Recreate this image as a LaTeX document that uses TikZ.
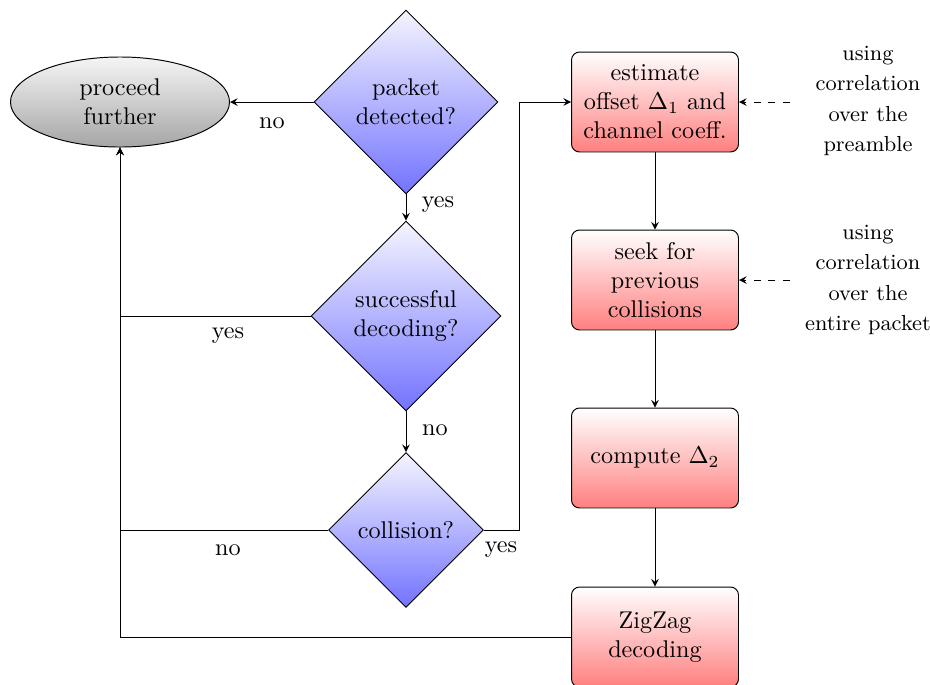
\documentclass[tikz,border=0pt]{standalone}
\usetikzlibrary{shapes.geometric,arrows}
\begin{document}
\begin{tikzpicture}[x=0.4132pt,y=-0.4132pt,
  arr/.style={-stealth},
  dec/.style={diamond,draw,aspect=1,inner sep=0pt,align=center,top color=blue!4,bottom color=blue!55},
  procbox/.style={rectangle,rounded corners=3.3pt,draw,align=center,minimum width=69pt,minimum height=41.3pt,inner sep=2pt,top color=white,bottom color=red!50},
  endnode/.style={ellipse,draw,align=center,minimum width=90.5pt,minimum height=37.2pt,inner sep=0pt,top color=black!4,bottom color=black!35},
  note/.style={align=center,font=\small},
  lbl/.style={inner sep=0pt}]
\useasboundingbox (0,0) rectangle (930,684);
\node[endnode] (proc) at (120,102) {proceed\\further};
\node[dec,minimum width=76pt,minimum height=76pt] (pkt) at (406,102) {packet\\detected?};
\node[dec,minimum width=78.5pt,minimum height=78.5pt] (succ) at (406,316) {successful\\decoding?};
\node[dec,minimum width=64pt,minimum height=64pt] (coll) at (406,530) {collision?};
\node[procbox] (est) at (655,102) {estimate\\offset $\Delta_1$ and\\channel coeff.};
\node[procbox] (seek) at (655,280) {seek for\\previous\\collisions};
\node[procbox] (comp) at (655,458) {compute $\Delta_2$};
\node[procbox] (zz) at (655,637) {ZigZag\\decoding};
\node[note] (n1) at (868,101) {using\\[1.6pt]correlation\\[1.6pt]over the\\[1.6pt]preamble};
\node[note] (n2) at (868,280) {using\\[1.6pt]correlation\\[1.6pt]over the\\[1.6pt]entire packet};
\coordinate (d1) at (790,102);
\coordinate (d2) at (790,280);
\coordinate (jx) at (519,530);
% connectors
\draw[arr] (pkt.west) -- (proc.east);
\draw[arr] (pkt.south) -- (succ.north);
\draw[arr] (succ.south) -- (coll.north);
\draw[arr] (succ.west) -| (proc.south);
\draw[arr] (coll.west) -| (proc.south);
\draw[arr] (zz.west) -| (proc.south);
\draw[arr] (coll.east) -- (jx) |- (est.west);
\draw[arr] (est) -- (seek);
\draw[arr] (seek) -- (comp);
\draw[arr] (comp) -- (zz);
\draw[arr,dashed] (d1) -- (est.east);
\draw[arr,dashed] (d2) -- (seek.east);
% labels
\node[lbl] (l1) at (272,123) {no};
\node[lbl] (l2) at (438,205) {yes};
\node[lbl] (l3) at (228,336) {yes};
\node[lbl] (l4) at (435,430) {no};
\node[lbl] (l5) at (228,550) {no};
\node[lbl] (l6) at (501,550) {yes};
\end{tikzpicture}
\end{document}
